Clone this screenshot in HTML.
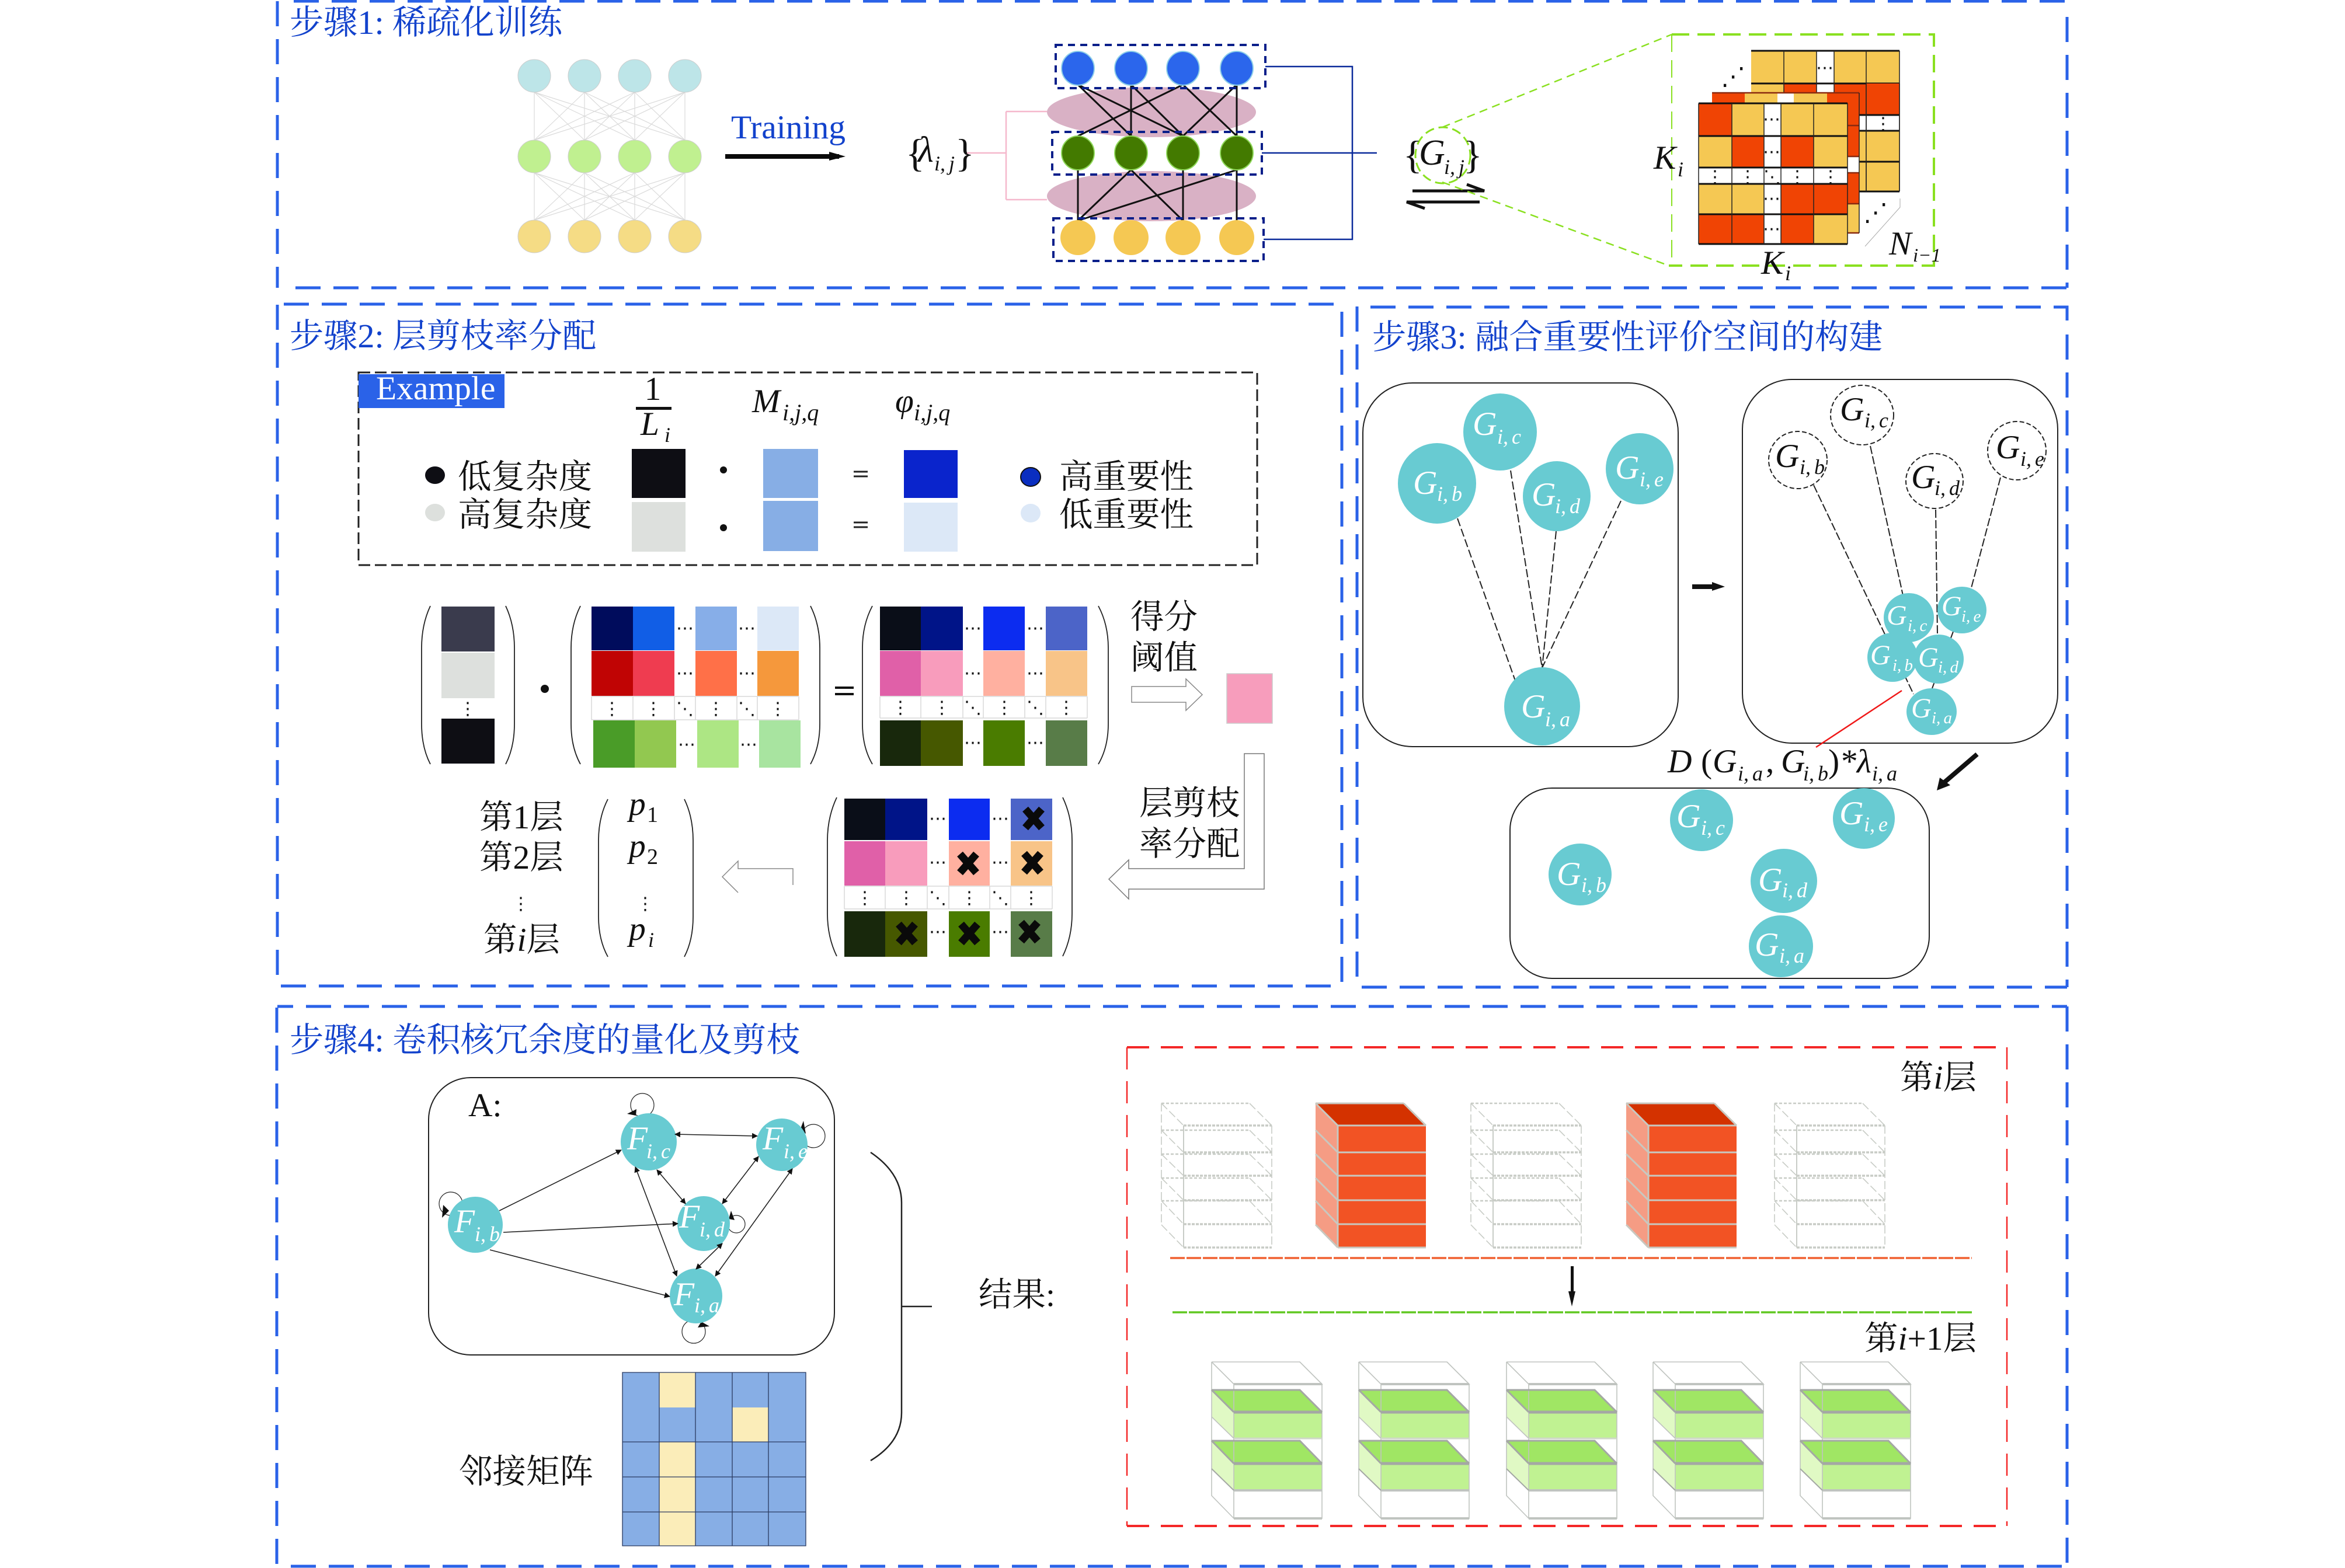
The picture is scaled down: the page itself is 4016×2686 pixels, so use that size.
<!DOCTYPE html>
<html lang="zh"><head><meta charset="utf-8"><title>Diagram</title>
<style>
html,body{margin:0;padding:0;background:#fff}
svg{display:block}
text{font-family:"Liberation Serif","Noto Serif CJK SC",serif;font-size:57.5px;fill:#111}
.b{fill:#1242cc;font-size:58.2px}
.tr{fill:#1242cc}
.i{font-style:italic}
.s{font-style:italic;font-size:36px;word-spacing:-3px}
.s2{font-style:italic;font-size:29px;word-spacing:-2px}
.w{fill:#fff}
.g48{font-style:italic;font-size:48px}
.dj{font-family:"DejaVu Sans",sans-serif;font-size:30px;fill:#111}
</style></head><body>
<svg xmlns="http://www.w3.org/2000/svg" width="4016" height="2686" viewBox="0 0 4016 2686">
<defs>
<marker id="ah" viewBox="0 0 10 10" refX="9" refY="5" markerWidth="14" markerHeight="10" markerUnits="userSpaceOnUse" orient="auto-start-reverse"><path d="M0,0L10,5L0,10Z" fill="#111"/></marker>
<g id="ws" fill="none" stroke="#c8ccc6">
<g stroke-width="3.5" stroke-dasharray="5 2"><path d="M0,1928H151M0,1974H151M0,2014H151M0,2056H151M0,2097H151M0,2137H151"/></g>
<g stroke-width="2.5" stroke-dasharray="5 3"><path d="M-38,1890H113M-38,1936H113M-38,1977H113M-38,2018H113M-38,2057H113"/></g>
<g stroke-width="1.6" stroke-dasharray="14 5"><path d="M-38,1890L0,1928M113,1890L151,1928M-38,1936L0,1974M113,1936L151,1974M-38,1977L0,2014M113,1977L151,2014M-38,2018L0,2056M113,2018L151,2056M-38,2057L0,2097M113,2057L151,2097M-38,2098L0,2137M151,1928V2137M-38,1890V2098"/></g>
<path d="M0,1928V2137" stroke-width="2"/>
</g>
<g id="rs">
<polygon points="-38,1890 0,1928 0,2137 -38,2098" fill="#f59c84"/>
<polygon points="-38,1890 113,1890 151,1928 0,1928" fill="#d43200"/>
<rect x="0" y="1928" width="151" height="209" fill="#f25324"/>
<path d="M0,1928H151M0,1974H151M0,2014H151M0,2056H151M0,2097H151M0,2137H151M-38,1890L0,1928M113,1890L151,1928M-38,1936L0,1974M-38,1977L0,2014M-38,2018L0,2056M-38,2057L0,2097M-38,2098L0,2137M0,1928V2137M-38,1890H113" fill="none" stroke="#c8c8c0" stroke-width="3"/>
</g>
<g id="gs">
<polygon points="-38,2381 0,2419 0,2464 -38,2427" fill="#e0f9c4"/>
<polygon points="-38,2468 0,2507 0,2553 -38,2516" fill="#e0f9c4"/>
<rect x="0" y="2419" width="151" height="45" fill="#c0f292"/>
<rect x="0" y="2507" width="151" height="46" fill="#c0f292"/>
<polygon points="-38,2381 113,2381 151,2419 0,2419" fill="#a0e664"/>
<polygon points="-38,2468 113,2468 151,2507 0,2507" fill="#a0e664"/>
<g fill="none" stroke="#c0c4c0" stroke-width="1.6">
<path d="M-38,2333H113L151,2371H0L-38,2333M-38,2333V2562L0,2601H151V2371M0,2371V2601M-38,2427L0,2464M113,2333L151,2371"/>
<path d="M0,2371H151M0,2553H151M0,2601H151" stroke-width="4"/>
<path d="M0,2464H151" stroke="#cfd8c8" stroke-width="3"/>
</g>
<g fill="none" stroke="#a4a8a4" stroke-width="3">
<path d="M-38,2381H113L151,2419M-38,2381L0,2419M-38,2468H113L151,2507M-38,2468L0,2507"/>
<path d="M0,2419H151M0,2507H151" stroke-width="5"/>
</g>
<path d="M-38,2516L0,2553" stroke="#a4a8a4" stroke-width="2" fill="none"/>
</g>
</defs>
<rect width="4016" height="2686" fill="#fff"/>

<!-- outer dashed boxes -->
<g fill="none" stroke="#2a62e8" stroke-width="5" stroke-dasharray="43 22">
<path d="M503,2H3540"/><path d="M475,2V493"/><path d="M506,493H3540"/><path d="M3540,29V493"/>
<path d="M486,521H2298"/><path d="M475,522V1689"/><path d="M2298,534V1689"/><path d="M481,1689H2298"/>
<path d="M2347,526H3540"/><path d="M2324,525V1691"/><path d="M3540,573V1691"/><path d="M2332,1691H3540"/><path d="M3520,526H3540V551"/>
<path d="M475,1724H3540" stroke-dashoffset="16"/><path d="M474,1726V2683"/><path d="M498,2683H3540"/><path d="M3540,1724V2683"/>
</g>

<!-- STEP 1 -->
<text x="496" y="58" class="b">步骤1: 稀疏化训练</text>
<g stroke="#dadada" stroke-width="1.2" fill="none">
<path d="M915,158L915,240M915,158L1001,240M915,158L1087,240M915,158L1173,240M1001,158L915,240M1001,158L1001,240M1001,158L1087,240M1001,158L1173,240M1087,158L915,240M1087,158L1001,240M1087,158L1087,240M1087,158L1173,240M1173,158L915,240M1173,158L1001,240M1173,158L1087,240M1173,158L1173,240"/>
<path d="M915,296L915,377M915,296L1001,377M915,296L1087,377M915,296L1173,377M1001,296L915,377M1001,296L1001,377M1001,296L1087,377M1001,296L1173,377M1087,296L915,377M1087,296L1001,377M1087,296L1087,377M1087,296L1173,377M1173,296L915,377M1173,296L1001,377M1173,296L1087,377M1173,296L1173,377"/>
</g>
<g stroke="#ccc" stroke-width="1">
<g fill="#bde5e8"><ellipse cx="915" cy="130" rx="28" ry="28"/><ellipse cx="1001" cy="130" rx="28" ry="28"/><ellipse cx="1087" cy="130" rx="28" ry="28"/><ellipse cx="1173" cy="130" rx="28" ry="28"/></g>
<g fill="#c0f090"><ellipse cx="915" cy="268" rx="28" ry="28"/><ellipse cx="1001" cy="268" rx="28" ry="28"/><ellipse cx="1087" cy="268" rx="28" ry="28"/><ellipse cx="1173" cy="268" rx="28" ry="28"/></g>
<g fill="#f5dc85"><ellipse cx="915" cy="405" rx="28" ry="28"/><ellipse cx="1001" cy="405" rx="28" ry="28"/><ellipse cx="1087" cy="405" rx="28" ry="28"/><ellipse cx="1173" cy="405" rx="28" ry="28"/></g>
</g>
<text x="1252" y="237" class="tr">Training</text>
<rect x="1242" y="264" width="195" height="8" fill="#0a0a0a"/><path d="M1420,260L1448,268L1420,275Z" fill="#0a0a0a"/>
<text x="1551" y="285" style="font-size:68px">{</text><text x="1572" y="277" class="i" style="font-size:62px">λ</text><text x="1600" y="292" class="s">i, j</text><text x="1636" y="285" style="font-size:68px">}</text>
<path d="M1656,262H1723M1723,191V342M1723,191H1793M1723,342H1793" fill="none" stroke="#f5b8cc" stroke-width="2.5"/>
<ellipse cx="1972" cy="192" rx="179" ry="43" fill="#d9b1c5"/>
<ellipse cx="1972" cy="336" rx="179" ry="43" fill="#d9b1c5"/>
<path d="M1846,145L1937,233M1846,145L2026,233M1937,145L1937,233M1937,145L2026,233M2026,145L1846,233M2026,145L2118,233M2118,145L2026,233M2118,145L2118,233M1846,291V378M1937,291L1846,378M1937,291L2026,378M2026,291V378M2118,291L1846,378M2118,291V378" fill="none" stroke="#111" stroke-width="3"/>
<g fill="#2b66ec" stroke="#8fd0e8" stroke-width="2"><ellipse cx="1846" cy="117" rx="28" ry="29"/><ellipse cx="1937" cy="117" rx="28" ry="29"/><ellipse cx="2026" cy="117" rx="28" ry="29"/><ellipse cx="2118" cy="117" rx="28" ry="29"/></g>
<g fill="#437a00" stroke="#8fd85a" stroke-width="2"><ellipse cx="1846" cy="262" rx="28" ry="29"/><ellipse cx="1937" cy="262" rx="28" ry="29"/><ellipse cx="2026" cy="262" rx="28" ry="29"/><ellipse cx="2118" cy="262" rx="28" ry="29"/></g>
<g fill="#f5c853"><ellipse cx="1846" cy="407" rx="30" ry="30"/><ellipse cx="1937" cy="407" rx="30" ry="30"/><ellipse cx="2026" cy="407" rx="30" ry="30"/><ellipse cx="2118" cy="407" rx="30" ry="30"/></g>
<g fill="none" stroke="#0a1f8a" stroke-width="4" stroke-dasharray="12 9">
<rect x="1808" y="77" width="359" height="74"/><rect x="1802" y="226" width="359" height="73"/><rect x="1804" y="374" width="360" height="73"/>
</g>
<path d="M2167,114H2316V410H2164M2161,262H2358" fill="none" stroke="#0a2a9a" stroke-width="2.5"/>
<ellipse cx="2471" cy="266" rx="47" ry="48" fill="none" stroke="#8ae020" stroke-width="3" stroke-dasharray="16 8"/>
<text x="2403" y="288" style="font-size:68px">{</text><text x="2430" y="282" class="i" style="font-size:62px">G</text><text x="2473" y="298" class="s">i, j</text><text x="2506" y="288" style="font-size:68px">}</text>
<path d="M2419,327H2542L2512,316M2534,346H2409L2440,357" fill="none" stroke="#111" stroke-width="5"/>
<path d="M2470,218L2863,59M2470,312L2858,455" fill="none" stroke="#8ae020" stroke-width="2.5" stroke-dasharray="14 9"/>
<g fill="none" stroke="#8ae020" stroke-dasharray="30 14"><path d="M2863,59H3312V455H2858" stroke-width="4"/><path d="M2863,59V455" stroke-width="2"/></g>

<!-- kernel stacks -->
<g>
<rect x="2999" y="87" width="254" height="241" fill="#f5c853"/>
<rect x="3055" y="143" width="198" height="54" fill="#f04404"/>
<rect x="3111" y="87" width="30" height="136" fill="#fff"/>
<rect x="2999" y="197" width="254" height="27" fill="#fff"/>
<path d="M2999,87H3253M2999,143H3253M2999,197H3253M2999,224H3253M2999,277H3253M2999,328H3253" fill="none" stroke="#111" stroke-width="3"/>
<path d="M3055,87V197M3196,87V328M3253,87V328M3111,87V197M3141,87V197" fill="none" stroke="#222" stroke-width="1.5"/>
<rect x="3196" y="143" width="57" height="54" fill="#f04404"/>
<rect x="3196" y="224" width="57" height="53" fill="#f5c853"/>
<path d="M3196,224H3253M3196,277H3253M3196,328H3253M3196,197H3253" fill="none" stroke="#111" stroke-width="3"/>
<path d="M3196,143V328M3253,143V328" stroke="#222" stroke-width="1.5"/>
<rect x="2932" y="159" width="252" height="240" fill="#f04404"/>
<rect x="2988" y="159" width="141" height="56" fill="#f5c853"/>
<rect x="3044" y="159" width="28" height="56" fill="#fff"/>
<rect x="2932" y="268" width="252" height="28" fill="#fff"/>
<rect x="3129" y="349" width="55" height="50" fill="#f5c853"/>
<path d="M2932,159H3184M2932,215H3184M2932,268H3184M2932,296H3184M2932,349H3184M2932,399H3184" fill="none" stroke="#8a2a10" stroke-width="2.5"/>
<path d="M3184,159V399" stroke="#222" stroke-width="1.5"/>
<rect x="2909" y="177" width="255" height="241" fill="#f5c853"/>
<rect x="2909" y="177" width="57" height="56" fill="#f04404"/>
<rect x="2966" y="233" width="55" height="54" fill="#f04404"/>
<rect x="3050" y="233" width="56" height="54" fill="#f04404"/>
<rect x="3050" y="315" width="114" height="52" fill="#f04404"/>
<rect x="2909" y="367" width="112" height="51" fill="#f04404"/>
<rect x="3050" y="367" width="56" height="51" fill="#f04404"/>
<rect x="3021" y="177" width="29" height="241" fill="#fff"/>
<rect x="2909" y="287" width="255" height="28" fill="#fff"/>
<path d="M2909,177H3164M2909,233H3164M2909,287H3164M2909,315H3164M2909,367H3164M2909,418H3164" fill="none" stroke="#111" stroke-width="3"/>
<path d="M2909,177V418M2966,177V418M3021,177V418M3050,177V418M3106,177V418M3164,177V418" fill="none" stroke="#222" stroke-width="1.5"/>
</g>
<g>
<text x="3034" y="214" class="dj" text-anchor="middle">⋯</text><text x="3034" y="270" class="dj" text-anchor="middle">⋯</text><text x="3034" y="350" class="dj" text-anchor="middle">⋯</text><text x="3034" y="402" class="dj" text-anchor="middle">⋯</text>
<text x="3125" y="126" class="dj" text-anchor="middle">⋯</text>
<text x="2937" y="313" class="dj" text-anchor="middle">⋮</text><text x="2993" y="313" class="dj" text-anchor="middle">⋮</text><text x="3035" y="313" class="dj" text-anchor="middle">⋱</text><text x="3078" y="313" class="dj" text-anchor="middle">⋮</text><text x="3135" y="313" class="dj" text-anchor="middle">⋮</text>
<text x="3225" y="222" class="dj" text-anchor="middle">⋮</text>
<text x="2968" y="145" class="dj" text-anchor="middle" style="font-size:42px">⋰</text>
<text x="3212" y="378" class="dj" text-anchor="middle" style="font-size:42px">⋰</text>
</g>
<path d="M3254,340L3254,355L3194,422" fill="none" stroke="#aaa" stroke-width="1"/>
<text x="2832" y="289" class="i">K</text><text x="2873" y="302" class="s">i</text>
<text x="3016" y="469" class="i">K</text><text x="3057" y="480" class="s">i</text>
<text x="3235" y="436" class="i">N</text><text x="3276" y="448" class="s" style="font-size:33px">i−1</text>

<!-- STEP 2 -->
<text x="496" y="595" class="b">步骤2: 层剪枝率分配</text>
<rect x="614" y="638" width="1539" height="330" fill="none" stroke="#222" stroke-width="3" stroke-dasharray="20 8"/>
<rect x="614" y="641" width="250" height="58" fill="#2a62e8"/>
<text x="644" y="684" class="w">Example</text>
<text x="1118" y="685" text-anchor="middle">1</text>
<rect x="1089" y="697" width="61" height="5" fill="#111"/>
<text x="1097" y="745" class="i">L</text><text x="1138" y="757" class="s">i</text>
<text x="1288" y="706" class="i">M</text><text x="1340" y="720" class="s" style="font-size:40px">i,j,q</text>
<text x="1533" y="706" class="i">φ</text><text x="1565" y="720" class="s" style="font-size:40px">i,j,q</text>
<rect x="1082" y="769" width="92" height="84" fill="#0e0e14"/><rect x="1082" y="860" width="92" height="85" fill="#dde0dd"/>
<rect x="1307" y="769" width="94" height="84" fill="#87aee5"/><rect x="1307" y="858" width="94" height="86" fill="#87aee5"/>
<rect x="1548" y="771" width="92" height="82" fill="#0a24cc"/><rect x="1548" y="861" width="92" height="84" fill="#dce8f7"/>
<ellipse cx="1239" cy="805" rx="6" ry="6" fill="#111"/><ellipse cx="1239" cy="904" rx="6" ry="6" fill="#111"/>
<path d="M1462,808h24M1462,816h24M1462,895h24M1462,903h24" stroke="#222" stroke-width="3" fill="none"/>
<ellipse cx="745" cy="814" rx="17" ry="15" fill="#0e0e14"/><ellipse cx="745" cy="878" rx="17" ry="15" fill="#dde0dd"/>
<text x="784" y="836">低复杂度</text><text x="784" y="901">高复杂度</text>
<ellipse cx="1765" cy="817" rx="17" ry="16" fill="#0a2ec0" stroke="#111" stroke-width="2"/><ellipse cx="1765" cy="879" rx="17" ry="16" fill="#dce8f7"/>
<text x="1814" y="836">高重要性</text><text x="1814" y="901">低重要性</text>

<g fill="none" stroke="#222" stroke-width="1.8">
<path d="M737,1038Q722,1070 722,1110V1240Q722,1280 737,1309M866,1038Q881,1070 881,1110V1240Q881,1280 866,1309"/>
<path d="M994,1038Q978,1070 978,1110V1240Q978,1280 994,1309M1388,1038Q1404,1070 1404,1110V1240Q1404,1280 1388,1309"/>
<path d="M1494,1038Q1477,1070 1477,1110V1240Q1477,1280 1494,1309M1881,1038Q1898,1070 1898,1110V1240Q1898,1280 1881,1309"/>
<path d="M1433,1366Q1417,1400 1417,1440V1565Q1417,1605 1433,1638M1820,1366Q1836,1400 1836,1440V1565Q1836,1605 1820,1638"/>
<path d="M1041,1369Q1025,1400 1025,1440V1570Q1025,1610 1041,1639M1172,1369Q1187,1400 1187,1440V1570Q1187,1610 1172,1639"/>
</g>
<rect x="756" y="1039" width="91" height="77" fill="#3a3b4d"/><rect x="756" y="1118" width="91" height="78" fill="#dde0dd"/><rect x="756" y="1231" width="91" height="77" fill="#0e0e14"/>
<text x="801" y="1224" class="dj" text-anchor="middle">⋮</text>
<ellipse cx="933" cy="1180" rx="7" ry="7" fill="#111"/>
<!-- matrix 2 -->
<rect x="1013" y="1039" width="71" height="75" fill="#000c5c"/><rect x="1084" y="1039" width="71" height="75" fill="#115ee6"/><rect x="1191" y="1039" width="71" height="75" fill="#87aee8"/><rect x="1297" y="1039" width="71" height="75" fill="#dce8f7"/>
<rect x="1013" y="1115" width="71" height="77" fill="#c00404"/><rect x="1084" y="1115" width="71" height="77" fill="#ef3c50"/><rect x="1191" y="1115" width="71" height="77" fill="#ff7048"/><rect x="1297" y="1115" width="71" height="77" fill="#f5983c"/>
<rect x="1016" y="1234" width="71" height="81" fill="#4a9c28"/><rect x="1087" y="1234" width="71" height="81" fill="#92c850"/><rect x="1194" y="1234" width="71" height="81" fill="#ade684"/><rect x="1300" y="1234" width="71" height="81" fill="#a8e4a0"/>
<path d="M1013,1193H1368M1013,1233H1368M1013,1193V1233M1084,1193V1233M1155,1193V1233M1191,1193V1233M1262,1193V1233M1297,1193V1233M1368,1193V1233" fill="none" stroke="#d8d8d8" stroke-width="1.5"/>
<rect x="1430" y="1176" width="32" height="4" fill="#111"/><rect x="1430" y="1187" width="32" height="4" fill="#111"/>
<!-- matrix 3 -->
<rect x="1507" y="1039" width="70" height="75" fill="#0a0e18"/><rect x="1577" y="1039" width="72" height="75" fill="#001488"/><rect x="1684" y="1039" width="71" height="75" fill="#0c2cf0"/><rect x="1791" y="1039" width="71" height="75" fill="#4c64c8"/>
<rect x="1507" y="1115" width="70" height="77" fill="#e060a8"/><rect x="1577" y="1115" width="72" height="77" fill="#f89cbc"/><rect x="1684" y="1115" width="71" height="77" fill="#ffb0a0"/><rect x="1791" y="1115" width="71" height="77" fill="#f8c488"/>
<rect x="1507" y="1234" width="70" height="78" fill="#18280c"/><rect x="1577" y="1234" width="72" height="78" fill="#465800"/><rect x="1684" y="1234" width="71" height="78" fill="#4a7c00"/><rect x="1791" y="1234" width="71" height="78" fill="#587c48"/>
<path d="M1507,1193H1862M1507,1230H1862M1507,1193V1230M1577,1193V1230M1649,1193V1230M1684,1193V1230M1755,1193V1230M1791,1193V1230M1862,1193V1230" fill="none" stroke="#d8d8d8" stroke-width="1.5"/>
<!-- matrix 4 -->
<rect x="1446" y="1368" width="70" height="71" fill="#0a0e18"/><rect x="1516" y="1368" width="72" height="71" fill="#001488"/><rect x="1625" y="1368" width="70" height="71" fill="#0c2cf0"/><rect x="1731" y="1368" width="71" height="71" fill="#4c64c8"/>
<rect x="1446" y="1441" width="70" height="76" fill="#e060a8"/><rect x="1516" y="1441" width="72" height="76" fill="#f89cbc"/><rect x="1625" y="1441" width="70" height="76" fill="#ffb0a0"/><rect x="1731" y="1441" width="71" height="76" fill="#f8c488"/>
<rect x="1446" y="1561" width="70" height="78" fill="#18280c"/><rect x="1516" y="1561" width="72" height="78" fill="#465800"/><rect x="1625" y="1561" width="70" height="78" fill="#4a7c00"/><rect x="1731" y="1561" width="71" height="78" fill="#587c48"/>
<path d="M1446,1518H1802M1446,1557H1802M1446,1518V1557M1516,1518V1557M1588,1518V1557M1625,1518V1557M1695,1518V1557M1731,1518V1557M1802,1518V1557" fill="none" stroke="#d8d8d8" stroke-width="1.5"/>
<g stroke="#0a0a0a" stroke-width="13" fill="none">
<path d="M1756,1386L1784,1418M1784,1386L1756,1418"/><path d="M1644,1463L1672,1495M1672,1463L1644,1495"/><path d="M1754,1462L1782,1494M1782,1462L1754,1494"/>
<path d="M1539,1583L1567,1615M1567,1583L1539,1615"/><path d="M1646,1583L1674,1615M1674,1583L1646,1615"/><path d="M1749,1580L1777,1612M1777,1580L1749,1612"/>
</g>
<!-- matrix dots -->
<g>
<text x="1173" y="1086" class="dj" text-anchor="middle">⋯</text><text x="1279" y="1086" class="dj" text-anchor="middle">⋯</text><text x="1173" y="1163" class="dj" text-anchor="middle">⋯</text><text x="1279" y="1163" class="dj" text-anchor="middle">⋯</text><text x="1176" y="1285" class="dj" text-anchor="middle">⋯</text><text x="1282" y="1285" class="dj" text-anchor="middle">⋯</text>
<text x="1048" y="1224" class="dj" text-anchor="middle">⋮</text><text x="1119" y="1224" class="dj" text-anchor="middle">⋮</text><text x="1173" y="1224" class="dj" text-anchor="middle">⋱</text><text x="1226" y="1224" class="dj" text-anchor="middle">⋮</text><text x="1279" y="1224" class="dj" text-anchor="middle">⋱</text><text x="1332" y="1224" class="dj" text-anchor="middle">⋮</text>
<text x="1666" y="1086" class="dj" text-anchor="middle">⋯</text><text x="1773" y="1086" class="dj" text-anchor="middle">⋯</text><text x="1666" y="1163" class="dj" text-anchor="middle">⋯</text><text x="1773" y="1163" class="dj" text-anchor="middle">⋯</text><text x="1666" y="1282" class="dj" text-anchor="middle">⋯</text><text x="1773" y="1282" class="dj" text-anchor="middle">⋯</text>
<text x="1542" y="1222" class="dj" text-anchor="middle">⋮</text><text x="1613" y="1222" class="dj" text-anchor="middle">⋮</text><text x="1666" y="1222" class="dj" text-anchor="middle">⋱</text><text x="1720" y="1222" class="dj" text-anchor="middle">⋮</text><text x="1773" y="1222" class="dj" text-anchor="middle">⋱</text><text x="1826" y="1222" class="dj" text-anchor="middle">⋮</text>
<text x="1606" y="1412" class="dj" text-anchor="middle">⋯</text><text x="1713" y="1412" class="dj" text-anchor="middle">⋯</text><text x="1606" y="1487" class="dj" text-anchor="middle">⋯</text><text x="1713" y="1487" class="dj" text-anchor="middle">⋯</text><text x="1606" y="1606" class="dj" text-anchor="middle">⋯</text><text x="1713" y="1606" class="dj" text-anchor="middle">⋯</text>
<text x="1481" y="1548" class="dj" text-anchor="middle">⋮</text><text x="1552" y="1548" class="dj" text-anchor="middle">⋮</text><text x="1606" y="1548" class="dj" text-anchor="middle">⋱</text><text x="1660" y="1548" class="dj" text-anchor="middle">⋮</text><text x="1713" y="1548" class="dj" text-anchor="middle">⋱</text><text x="1766" y="1548" class="dj" text-anchor="middle">⋮</text>
</g>
<text x="1936" y="1076">得分</text><text x="1936" y="1146">阈值</text>
<path d="M1938,1176H2031V1163L2059,1190L2031,1217V1203H1938Z" fill="#fff" stroke="#888" stroke-width="1.5"/>
<rect x="2101" y="1154" width="78" height="85" fill="#f79dbc" stroke="#ccc" stroke-width="1.5"/>
<path d="M2131,1291H2165V1523H1933V1540L1899,1506L1933,1473V1488H2131Z" fill="#fff" stroke="#777" stroke-width="1.5"/>
<text x="1951" y="1395">层剪枝</text><text x="1951" y="1465">率分配</text>
<path d="M1358,1516V1488H1264V1475L1237,1502L1264,1529" fill="none" stroke="#888" stroke-width="1.5"/>
<text x="821" y="1419">第1层</text><text x="821" y="1488">第2层</text>
<text x="892" y="1558" class="dj" text-anchor="middle">⋮</text>
<text x="828" y="1629">第<tspan class="i">i</tspan>层</text>
<text x="1077" y="1396" class="i">p</text><text x="1108" y="1408" style="font-size:38px">1</text>
<text x="1077" y="1468" class="i">p</text><text x="1108" y="1480" style="font-size:38px">2</text>
<text x="1105" y="1558" class="dj" text-anchor="middle">⋮</text>
<text x="1077" y="1610" class="i">p</text><text x="1110" y="1622" class="s">i</text>

<!-- STEP 3 -->
<text x="2350" y="597" class="b">步骤3: 融合重要性评价空间的构建</text>
<g fill="none" stroke="#222" stroke-width="2">
<rect x="2334" y="656" width="540" height="623" rx="85" ry="85"/>
<rect x="2984" y="650" width="540" height="623" rx="85" ry="85"/>
<rect x="2586" y="1350" width="718" height="326" rx="72" ry="72"/>
</g>
<path d="M2496,888L2595,1166M2587,806L2641,1144M2665,910L2641,1144M2776,858L2641,1144" fill="none" stroke="#222" stroke-width="2" stroke-dasharray="14 5"/>
<g fill="#68cbd2">
<ellipse cx="2461" cy="828" rx="67" ry="69"/><ellipse cx="2569" cy="740" rx="63" ry="66"/><ellipse cx="2666" cy="850" rx="58" ry="60"/><ellipse cx="2808" cy="803" rx="58" ry="61"/><ellipse cx="2641" cy="1210" rx="65" ry="67"/>
</g>
<text x="2420" y="846" class="w i">G</text><text x="2461" y="858" class="w s">i, b</text>
<text x="2522" y="745" class="w i">G</text><text x="2564" y="760" class="w s">i, c</text>
<text x="2623" y="866" class="w i">G</text><text x="2663" y="879" class="w s">i, d</text>
<text x="2766" y="820" class="w i">G</text><text x="2808" y="833" class="w s">i, e</text>
<text x="2605" y="1229" class="w i">G</text><text x="2646" y="1244" class="w s">i, a</text>
<path d="M2898,1005H2940" stroke="#111" stroke-width="8"/><path d="M2932,997L2954,1005L2932,1012Z" fill="#111"/>
<path d="M3106,831L3277,1189M3203,764L3259,1020M3315,873L3318,1087M3426,818L3376,1007M3345,1082L3309,1179" fill="none" stroke="#222" stroke-width="2" stroke-dasharray="14 4"/>
<g fill="none" stroke="#222" stroke-width="2" stroke-dasharray="8 4">
<ellipse cx="3079" cy="788" rx="50" ry="49"/><ellipse cx="3189" cy="711" rx="54" ry="51"/><ellipse cx="3313" cy="824" rx="49" ry="47"/><ellipse cx="3454" cy="772" rx="50" ry="50"/>
</g>
<text x="3040" y="800" class="i">G</text><text x="3082" y="812" class="s">i, b</text>
<text x="3151" y="720" class="i">G</text><text x="3193" y="732" class="s">i, c</text>
<text x="3273" y="836" class="i">G</text><text x="3313" y="848" class="s">i, d</text>
<text x="3418" y="785" class="i">G</text><text x="3460" y="798" class="s">i, e</text>
<g fill="#68cbd2">
<ellipse cx="3269" cy="1058" rx="43" ry="42"/><ellipse cx="3360" cy="1045" rx="42" ry="40"/><ellipse cx="3241" cy="1126" rx="43" ry="42"/><ellipse cx="3320" cy="1129" rx="43" ry="42"/><ellipse cx="3308" cy="1219" rx="43" ry="40"/>
</g>
<text x="3231" y="1070" class="w g48">G</text><text x="3267" y="1081" class="w s2">i, c</text>
<text x="3325" y="1054" class="w g48">G</text><text x="3359" y="1065" class="w s2">i, e</text>
<text x="3203" y="1138" class="w g48">G</text><text x="3241" y="1149" class="w s2">i, b</text>
<text x="3285" y="1142" class="w g48">G</text><text x="3319" y="1152" class="w s2">i, d</text>
<text x="3273" y="1229" class="w g48">G</text><text x="3308" y="1239" class="w s2">i, a</text>
<path d="M3257,1183L3110,1280" stroke="#f01818" stroke-width="2.5" fill="none"/>
<text x="2856" y="1323" class="i">D</text><text x="2913" y="1323">(</text><text x="2933" y="1323" class="i">G</text><text x="2976" y="1337" class="s">i, a</text><text x="3024" y="1323">,</text>
<text x="3050" y="1323" class="i">G</text><text x="3088" y="1337" class="s">i, b</text><text x="3131" y="1323">)</text><text x="3153" y="1323">*</text><text x="3180" y="1323" class="i">λ</text><text x="3206" y="1337" class="s">i, a</text>
<path d="M3386,1292L3330,1340" stroke="#111" stroke-width="8" fill="none"/><path d="M3317,1354L3322,1332L3340,1345Z" fill="#111"/>
<g fill="#68cbd2">
<ellipse cx="2914" cy="1405" rx="54" ry="53"/><ellipse cx="3192" cy="1402" rx="53" ry="52"/><ellipse cx="2706" cy="1498" rx="54" ry="53"/><ellipse cx="3055" cy="1509" rx="57" ry="55"/><ellipse cx="3050" cy="1621" rx="55" ry="53"/>
</g>
<text x="2871" y="1417" class="w i">G</text><text x="2913" y="1430" class="w s">i, c</text>
<text x="3150" y="1412" class="w i">G</text><text x="3192" y="1424" class="w s">i, e</text>
<text x="2666" y="1516" class="w i">G</text><text x="2708" y="1528" class="w s">i, b</text>
<text x="3011" y="1526" class="w i">G</text><text x="3052" y="1537" class="w s">i, d</text>
<text x="3005" y="1637" class="w i">G</text><text x="3047" y="1649" class="w s">i, a</text>

<!-- STEP 4 -->
<text x="496" y="1801" class="b">步骤4: 卷积核冗余度的量化及剪枝</text>
<rect x="734" y="1846" width="695" height="475" rx="72" ry="72" fill="none" stroke="#222" stroke-width="2"/>
<text x="802" y="1912">A:</text>
<g fill="none" stroke="#222" stroke-width="1.2">
<circle cx="1100" cy="1893" r="20"/><circle cx="1393" cy="1946" r="20"/><circle cx="1261" cy="2097" r="15"/><circle cx="772" cy="2062" r="20"/><circle cx="1188" cy="2281" r="20"/>
</g>
<g fill="#111"><path d="M1074,1908l16,-8l-1,11z"/><path d="M1376,1920l4,22l-10,-6z"/><path d="M1252,2074l6,16l-10,-2z"/><path d="M757,2086l2,-22l10,10z"/><path d="M1215,2272l-14,-8l-6,10z"/></g>
<g fill="#68cbd2">
<ellipse cx="814" cy="2098" rx="47" ry="48"/><ellipse cx="1111" cy="1956" rx="48" ry="49"/><ellipse cx="1339" cy="1961" rx="44" ry="45"/><ellipse cx="1205" cy="2096" rx="45" ry="47"/><ellipse cx="1192" cy="2220" rx="45" ry="47"/>
</g>
<g fill="none" stroke="#222" stroke-width="1.6" marker-end="url(#ah)">
<path d="M855,2074L1064,1970"/><path d="M862,2111L1161,2096"/><path d="M839,2141L1147,2221"/>
<path d="M1156,1943L1297,1946" marker-start="url(#ah)"/><path d="M1125,2004L1174,2062" marker-start="url(#ah)"/><path d="M1088,1999L1159,2186" marker-start="url(#ah)"/>
<path d="M1299,1981L1237,2062" marker-start="url(#ah)"/><path d="M1357,2002L1225,2186" marker-start="url(#ah)"/><path d="M1237,2130L1192,2174" marker-start="url(#ah)"/>
</g>
<text x="778" y="2111" class="w i">F</text><text x="813" y="2126" class="w s">i, b</text>
<text x="1074" y="1969" class="w i">F</text><text x="1107" y="1984" class="w s">i, c</text>
<text x="1306" y="1969" class="w i">F</text><text x="1342" y="1984" class="w s">i, e</text>
<text x="1163" y="2103" class="w i">F</text><text x="1198" y="2118" class="w s">i, d</text>
<text x="1154" y="2236" class="w i">F</text><text x="1189" y="2248" class="w s">i, a</text>
<path d="M1491,1974Q1544,2010 1544,2060V2420Q1544,2470 1491,2502M1544,2238H1596" fill="none" stroke="#222" stroke-width="2.5"/>
<text x="1676" y="2237">结果:</text>
<rect x="1066" y="2351" width="314" height="297" fill="#87aee5"/>
<rect x="1129" y="2351" width="62" height="60" fill="#fbedb9"/><rect x="1254" y="2411" width="62" height="59" fill="#fbedb9"/><rect x="1129" y="2470" width="62" height="178" fill="#fbedb9"/>
<path d="M1066,2351H1380V2648H1066ZM1129,2351V2648M1191,2351V2648M1254,2351V2648M1316,2351V2648M1066,2470H1380M1066,2530H1380M1066,2590H1380" fill="none" stroke="#2a3a60" stroke-width="1.3"/>
<text x="786" y="2540">邻接矩阵</text>

<g fill="none" stroke="#f42828" stroke-width="4" stroke-dasharray="38 20">
<path d="M1930,1794H3437"/><path d="M1930,2614H3437"/></g>
<g fill="none" stroke="#f42828" stroke-width="2.5" stroke-dasharray="38 20">
<path d="M1930,1794V2614"/><path d="M3437,1794V2614"/></g>
<text x="3254" y="1865">第<tspan class="i">i</tspan>层</text>
<text x="3193" y="2312">第<tspan class="i">i</tspan>+1层</text>
<use href="#ws" x="2027"/><use href="#rs" x="2291"/><use href="#ws" x="2557"/><use href="#rs" x="2823"/><use href="#ws" x="3077"/>
<path d="M2004,2155H3377" stroke="#f06030" stroke-width="3.5" stroke-dasharray="25 3" fill="none"/>
<rect x="2690" y="2169" width="5" height="45" fill="#111"/><path d="M2686,2212H2698L2692,2238Z" fill="#111"/>
<path d="M2008,2248H3380" stroke="#60c820" stroke-width="3.5" stroke-dasharray="25 3" fill="none"/>
<use href="#gs" x="2113"/><use href="#gs" x="2365"/><use href="#gs" x="2618"/><use href="#gs" x="2869"/><use href="#gs" x="3121"/>
</svg>
</body></html>
